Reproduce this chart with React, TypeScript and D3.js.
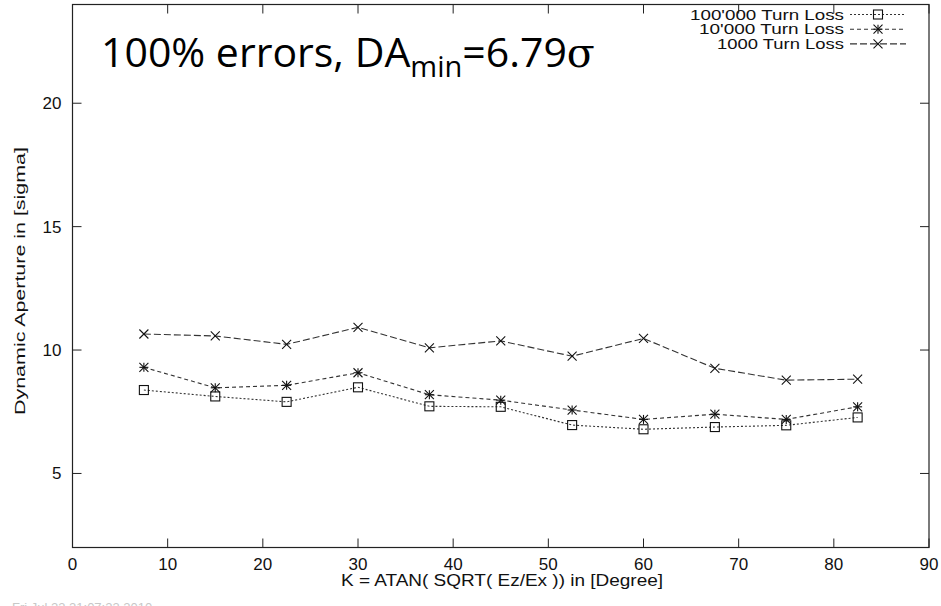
import React from "react";
import * as d3 from "d3";

// Tune angles (degrees)
const angles = [7.5, 15, 22.5, 30, 37.5, 45, 52.5, 60, 67.5, 75, 82.5];

// Dynamic aperture (sigma) per loss criterion
const da100k = [8.38, 8.12, 7.9, 8.49, 7.72, 7.7, 6.96, 6.79, 6.88, 6.95, 7.27];
const da10k = [9.3, 8.47, 8.57, 9.08, 8.19, 7.97, 7.57, 7.19, 7.4, 7.19, 7.7];
const da1k = [10.65, 10.57, 10.23, 10.92, 10.09, 10.37, 9.75, 10.47, 9.26, 8.78, 8.82];

const xTicks = [0, 10, 20, 30, 40, 50, 60, 70, 80, 90];
const yTicks = [5, 10, 15, 20];

const seriesNames = ["100'000 Turn Loss", "10'000 Turn Loss", "1000 Turn Loss"];

const W = 941;
const H = 606;
const left = 72.5;
const right = 929;
const top = 4.5;
const bottom = 547.5;

type Marker = "square" | "star" | "cross";

function MarkerShape({ kind, x, y }: { kind: Marker; x: number; y: number }) {
  const s = 4.5;
  const stroke = "#111";
  if (kind === "square") {
    return <rect x={x - s} y={y - s} width={2 * s} height={2 * s} fill="none" stroke={stroke} strokeWidth={1.1} />;
  }
  if (kind === "star") {
    return (
      <g stroke={stroke} strokeWidth={1.1}>
        <line x1={x - s} y1={y} x2={x + s} y2={y} />
        <line x1={x} y1={y - s} x2={x} y2={y + s} />
        <line x1={x - s} y1={y - s} x2={x + s} y2={y + s} />
        <line x1={x - s} y1={y + s} x2={x + s} y2={y - s} />
      </g>
    );
  }
  return (
    <g stroke={stroke} strokeWidth={1.1}>
      <line x1={x - s} y1={y - s} x2={x + s} y2={y + s} />
      <line x1={x - s} y1={y + s} x2={x + s} y2={y - s} />
    </g>
  );
}

export default function App() {
  const x = d3.scaleLinear().domain([0, 90]).range([left, right]);
  const y = d3.scaleLinear().domain([2, 24]).range([bottom, top]);

  const series: { name: string; values: number[]; marker: Marker; dash: string }[] = [
    { name: seriesNames[0], values: da100k, marker: "square", dash: "2,2" },
    { name: seriesNames[1], values: da10k, marker: "star", dash: "4,3" },
    { name: seriesNames[2], values: da1k, marker: "cross", dash: "7,3" },
  ];

  const line = d3
    .line<[number, number]>()
    .x((d) => x(d[0]))
    .y((d) => y(d[1]));

  const font = "Liberation Sans, Arial, Helvetica, sans-serif";
  const tickLen = 9;

  return (
    <svg
      width={W}
      height={H}
      style={{ position: "absolute", left: 0, top: 0, background: "#fff" }}
      fontFamily={font}
    >
      <rect x={0} y={0} width={W} height={H} fill="#fff" />

      {/* frame */}
      <rect x={left} y={top} width={right - left} height={bottom - top} fill="none" stroke="#222" strokeWidth={1.2} />

      {/* x ticks, bottom and top (mirrored) */}
      {xTicks.map((t) => (
        <g key={"xt" + t}>
          <line x1={x(t)} x2={x(t)} y1={bottom} y2={bottom - tickLen} stroke="#222" />
          <line x1={x(t)} x2={x(t)} y1={top} y2={top + tickLen} stroke="#222" />
          <text x={x(t)} y={bottom + 22} textAnchor="middle" fontSize={17} fill="#111">
            {t}
          </text>
        </g>
      ))}

      {/* y ticks, left and right (mirrored) */}
      {yTicks.map((t) => (
        <g key={"yt" + t}>
          <line x1={left} x2={left + tickLen} y1={y(t)} y2={y(t)} stroke="#222" />
          <line x1={right} x2={right - tickLen} y1={y(t)} y2={y(t)} stroke="#222" />
          <text x={left - 11} y={y(t) + 6} textAnchor="end" fontSize={17} fill="#111">
            {t}
          </text>
        </g>
      ))}

      {/* axis titles */}
      <text
        x={502}
        y={586}
        textAnchor="middle"
        fontSize={16}
        fill="#111"
        textLength={322}
        lengthAdjust="spacingAndGlyphs"
      >
        K = ATAN( SQRT( Ez/Ex )) in [Degree]
      </text>
      <text
        transform={`translate(25, 281) rotate(-90)`}
        textAnchor="middle"
        fontSize={15}
        fill="#111"
        textLength={268}
        lengthAdjust="spacingAndGlyphs"
      >
        Dynamic Aperture in [sigma]
      </text>

      {/* series */}
      {series.map((s) => {
        const pts: [number, number][] = angles.map((a, i) => [a, s.values[i]]);
        return (
          <g key={s.name}>
            <path d={line(pts) || ""} fill="none" stroke="#333" strokeWidth={1.1} strokeDasharray={s.dash} />
            {pts.map((p, i) => (
              <MarkerShape key={i} kind={s.marker} x={x(p[0])} y={y(p[1])} />
            ))}
          </g>
        );
      })}

      {/* legend */}
      {series.map((s, i) => {
        const ly = 14.5 + i * 14.7;
        const w = i === 0 ? 154 : i === 1 ? 145 : 127;
        return (
          <g key={"lg" + i}>
            <text
              x={844 - w}
              y={ly + 5}
              fontSize={14}
              fill="#111"
              textLength={w}
              lengthAdjust="spacingAndGlyphs"
            >
              {s.name}
            </text>
            <line x1={850} x2={906} y1={ly} y2={ly} stroke="#333" strokeWidth={1.1} strokeDasharray={s.dash} />
            <MarkerShape kind={s.marker} x={878} y={ly} />
          </g>
        );
      })}

      {/* annotation */}
      <text x={101} y={67} fontSize={41} fill="#000" fontFamily="Open Sans, Noto Sans, sans-serif">
        100% errors, DA
        <tspan fontSize={29} dy={10}>min</tspan>
        <tspan fontSize={41} dy={-10}>=6.79</tspan>
        <tspan fontSize={41} fontFamily="DejaVu Serif, Liberation Serif, serif">σ</tspan>
      </text>

      {/* print timestamp at the page foot */}
      <text x={12} y={612} fontSize={13} fill="#c8c8c8">
        Fri Jul 23 21:07:23 2010
      </text>
    </svg>
  );
}
